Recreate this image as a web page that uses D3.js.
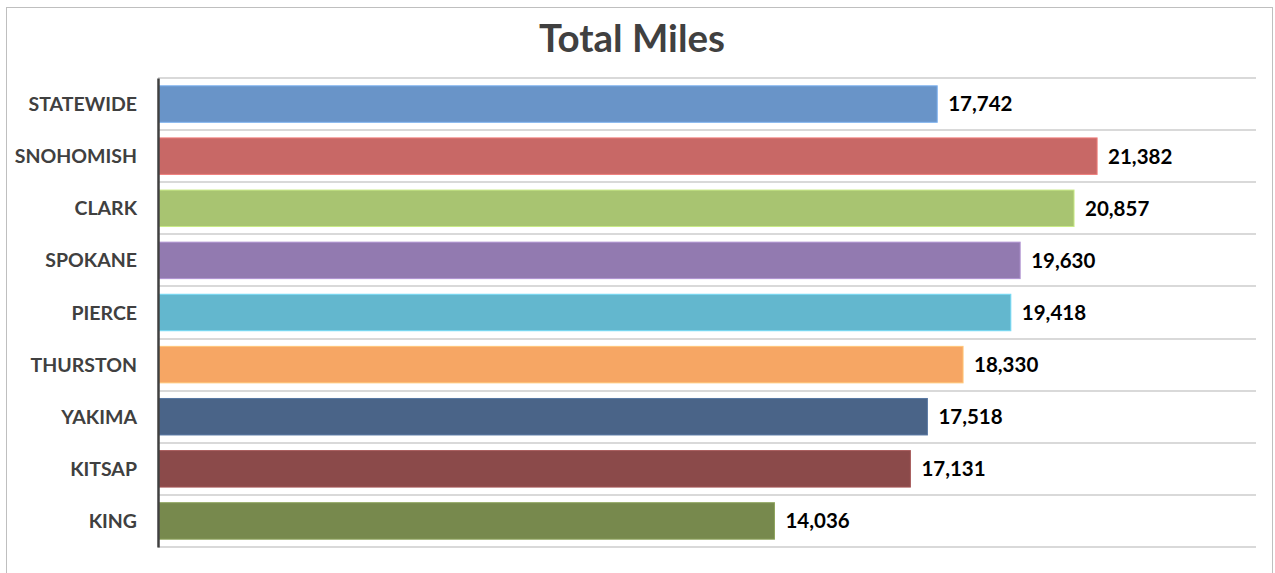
<!DOCTYPE html>
<html><head><meta charset="utf-8">
<script src="https://cdn.jsdelivr.net/npm/d3@7"></script>
<style>
html,body{margin:0;padding:0;background:#fff;}
svg text{font-family:Lato,"Open Sans",sans-serif;}
</style></head>
<body><svg id="c" width="1275" height="573"></svg>
<script>
const categories = ["STATEWIDE","SNOHOMISH","CLARK","SPOKANE","PIERCE","THURSTON","YAKIMA","KITSAP","KING"];
const values = [17742,21382,20857,19630,19418,18330,17518,17131,14036];
const colors = ["#6994C8","#C86866","#A8C471","#927AB0","#63B7CE","#F6A664","#4A6488","#8B4A4A","#77894D"];
const title = "Total Miles";

(function(){
const svg = d3.select("#c");
svg.append("rect").attr("x",6.5).attr("y",7.5).attr("width",1266).attr("height",570)
  .attr("fill","#fff").attr("stroke","#BFBFBF");

const pl=158, pr=1256, pt=78, pb=547;
const x = d3.scaleLinear().domain([0,25000]).range([pl,pr]);
const y = d3.scaleBand().domain(categories).range([pt,pb]).paddingInner(0.3).paddingOuter(0.15);

svg.append("text").attr("x",632).attr("y",52).attr("text-anchor","middle")
  .attr("font-size",38.5).attr("font-weight","bold").attr("fill","#404040").text(title);

const step = (pb-pt)/categories.length;
const bounds = d3.range(categories.length+1).map(i=>pt+i*step);
svg.append("g").selectAll("line").data(bounds).join("line")
  .attr("x1",pl).attr("x2",pr)
  .attr("y1",d=>Math.round(d)).attr("y2",d=>Math.round(d))
  .attr("stroke","#D9D9D9").attr("stroke-width",2);

svg.append("g").selectAll("rect").data(categories).join("rect")
  .attr("x",x(0)+1).attr("y",d=>y(d))
  .attr("width",(d,i)=>x(values[i])-x(0)-1).attr("height",y.bandwidth())
  .attr("fill",(d,i)=>colors[i])
  .attr("stroke",(d,i)=>d3.color(colors[i]).brighter(0.5)).attr("stroke-width",1);

svg.append("g").selectAll("text").data(categories).join("text")
  .attr("x",(d,i)=>x(values[i])+11).attr("y",d=>y(d)+y.bandwidth()/2)
  .attr("dy","0.36em").attr("font-size",20.5).attr("font-weight","bold").attr("fill","#000")
  .text((d,i)=>d3.format(",")(values[i]));

const yAxis = svg.append("g").attr("transform",`translate(${pl},0)`)
  .call(d3.axisLeft(y).tickSize(0).tickPadding(21));
yAxis.select(".domain").attr("stroke","#404040").attr("stroke-width",2.5);
yAxis.selectAll("text").attr("font-size",19.5).attr("font-weight","bold").attr("fill","#404040")
  .attr("dy","0.36em")
  .style("font-family","Lato,'Open Sans',sans-serif");
})();
</script></body></html>
